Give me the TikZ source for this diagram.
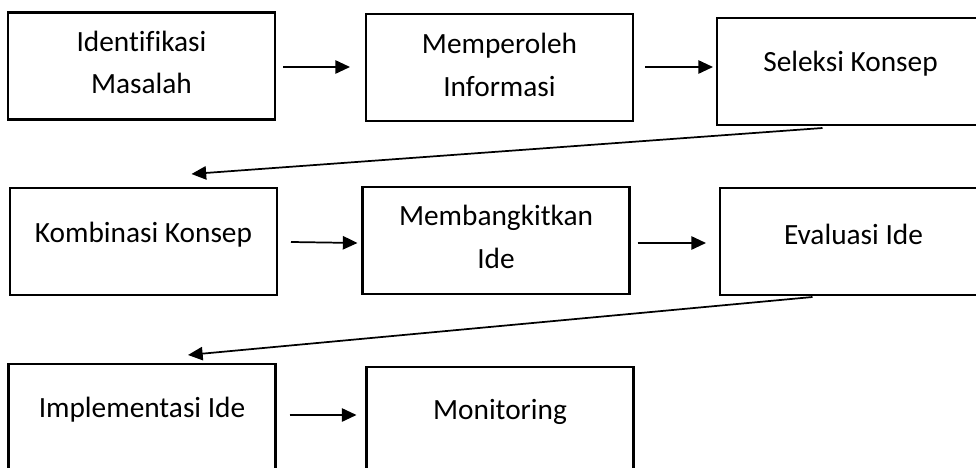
\documentclass[tikz,border=0pt]{standalone}
\usepackage{fontspec}
\setmainfont{Carlito}[Ligatures=NoCommon]
\usetikzlibrary{arrows.meta}
\begin{document}
\begin{tikzpicture}[x=0.75pt, y=-0.75pt,
  box/.style={draw=black, line width=1.6pt, minimum width=267*0.75pt,
              minimum height=107*0.75pt, inner sep=0pt, outer sep=0pt},
  txt/.style={font=\fontsize{22}{29}\selectfont, align=center, inner sep=0pt},
  arr/.style={line width=1.3pt, -{Triangle[length=11pt, width=10pt]}}]
  \path[use as bounding box] (0,0) rectangle (976,468);
  \clip (0,0) rectangle (976,468);

  % process boxes
  \node[box] (b1) at (141.5,66)  {};
  \node[box] (b2) at (499.5,67.5) {};
  \node[box] (b3) at (850.5,71.5) {};
  \node[box] (b4) at (143.5,241.5) {};
  \node[box] (b5) at (496,240.5) {};
  \node[box] (b6) at (853.5,241.5) {};
  \node[box] (b7) at (142,417.5) {};
  \node[box] (b8) at (500,420.5) {};

  % labels, set near the top of each box
  \node[txt] at ([shift={(0,50)}]b1.north) {Identifikasi\\[3pt]Masalah};
  \node[txt] at ([shift={(0,51)}]b2.north) {Memperoleh\\[3pt]Informasi};
  \node[txt] at ([shift={(0,46)}]b3.north) {Seleksi Konsep};
  \node[txt] at ([shift={(0,47)}]b4.north) {Kombinasi Konsep};
  \node[txt] at ([shift={(0,50)}]b5.north) {Membangkitkan\\[3pt]Ide};
  \node[txt] at ([shift={(0,46)}]b6.north) {Evaluasi Ide};
  \node[txt] at ([shift={(0,46)}]b7.north) {Implementasi Ide};
  \node[txt] at ([shift={(0,45)}]b8.north) {Monitoring};

  % connectors within a row
  \draw[arr] ([shift={(8,1)}]b1.east) -- ([shift={(-16,-0.5)}]b2.west);
  \draw[arr] ([shift={(12,-0.5)}]b2.east) -- ([shift={(-4,-4.5)}]b3.west);
  \draw[arr] ([shift={(14,0.5)}]b4.east) -- ([shift={(-5,2.5)}]b5.west);
  \draw[arr] ([shift={(8,2.5)}]b5.east) -- ([shift={(-14,1.5)}]b6.west);
  \draw[arr] ([shift={(14,-2.5)}]b7.east) -- ([shift={(-10,-5.5)}]b8.west);

  % connectors from one row to the next
  \draw[arr] ([shift={(-28,3)}]b3.south) -- ([shift={(48,-14)}]b4.north);
  \draw[arr] ([shift={(-41,2)}]b6.south) -- ([shift={(46,-9)}]b7.north);
\end{tikzpicture}
\end{document}
